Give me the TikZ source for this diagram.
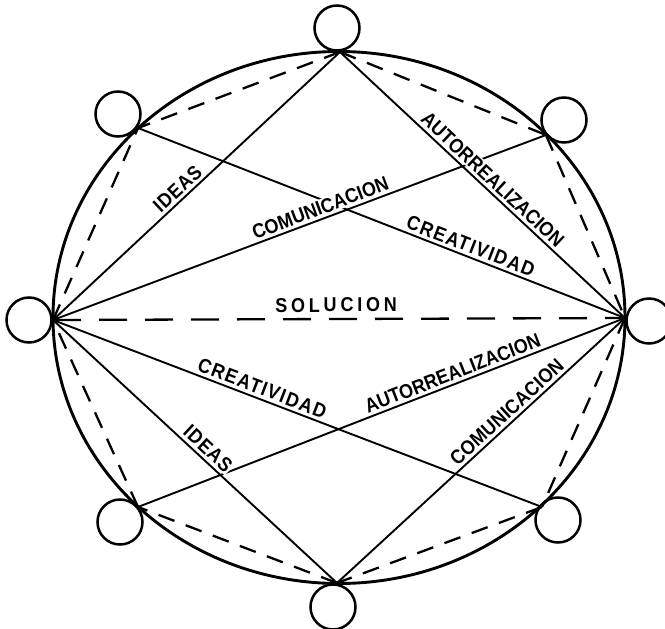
\documentclass[tikz,border=0pt]{standalone}
\usepackage{fontspec}
\newfontfamily\labfont[FakeStretch=0.9]{Liberation Sans}
\begin{document}
\begin{tikzpicture}[x=1pt,y=1pt,
  bigc/.style={line width=2.9pt},
  solidl/.style={line width=1.9pt},
  dashl/.style={line width=2.3pt, dash pattern=on 17pt off 12pt},
  soldash/.style={line width=2.3pt, dash pattern=on 28pt off 18pt},
  smallc/.style={circle, draw, line width=2.5pt, minimum size=45pt, inner sep=0pt},
  lab/.style={font=\labfont\bfseries\fontsize{20}{20}\selectfont\addfontfeature{LetterSpace=#1},
              fill=white, inner sep=1.2pt, sloped, above=2.5pt},
]
\useasboundingbox (0,0) rectangle (665,-629);

% vertices on the big circle
\coordinate (T)  at (340,-52);
\coordinate (TR) at (546,-135);
\coordinate (R)  at (625,-318);
\coordinate (BR) at (542,-507);
\coordinate (B)  at (337,-583);
\coordinate (BL) at (138,-507);
\coordinate (L)  at (53,-320);
\coordinate (TL) at (138,-128);

% big circle
\draw[bigc] (339,-317.5) ellipse [x radius=286pt, y radius=266pt];

% small circles
\node[smallc] (cT)  at (337,-28)  {};
\node[smallc] (cTR) at (564,-120) {};
\node[smallc] (cR)  at (649,-321) {};
\node[smallc] (cBR) at (558,-520) {};
\node[smallc] (cB)  at (333,-607) {};
\node[smallc] (cBL) at (120,-522) {};
\node[smallc] (cL)  at (29,-320)  {};
\node[smallc] (cTL) at (118,-114) {};

% dashed octagon
\draw[dashl] (T) -- (TL);
\draw[dashl] (T) -- (TR);
\draw[dashl] (TR) -- (R);
\draw[dashl] (R) -- (BR);
\draw[dashl] (BR) -- (B);
\draw[dashl] (B) -- (BL);
\draw[dashl] (BL) -- (L);
\draw[dashl] (L) -- (TL);

% solution line
\draw[soldash] (L) -- (R);

% solid lines
\draw[solidl] (L) -- (T);
\draw[solidl] (L) -- (TR);
\draw[solidl] (L) -- (BR);
\draw[solidl] (L) -- (B);
\draw[solidl] (TL) -- (R);
\draw[solidl] (T) -- (R);
\draw[solidl] (BL) -- (R);
\draw[solidl] (B) -- (R);

% labels
\path (L) -- (T)   node[lab=4, pos=0.46]  (l1) {IDEAS};
\path (L) -- (TR)  node[lab=0, pos=0.55]  (l2) {COMUNICACION};
\path (T) -- (R)   node[lab=0, pos=0.51]  (l3) {AUTORREALIZACION};
\path (TL) -- (R)  node[lab=7, pos=0.675] (l4) {CREATIVIDAD};
\path (L) -- (R)   node[lab=19, pos=0.495, fill=none, above=3pt] (l5) {SOLUCION};
\path (L) -- (BR)  node[lab=7, pos=0.42]  (l6) {CREATIVIDAD};
\path (BL) -- (R)  node[lab=0, pos=0.654] (l7) {AUTORREALIZACION};
\path (L) -- (B)   node[lab=4, pos=0.52]  (l8) {IDEAS};
\path (B) -- (R)   node[lab=1, pos=0.615] (l9) {COMUNICACION};
\end{tikzpicture}
\end{document}
